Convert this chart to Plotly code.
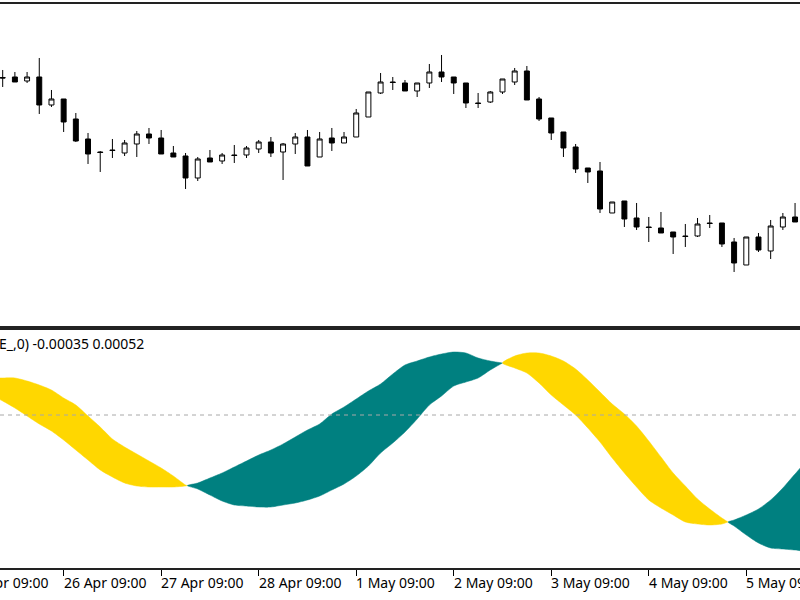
import numpy as np
import plotly.graph_objects as go

# ---------------- data ----------------
# H3 bars, index -1 .. 66 (first/last only partly in view)
bar_idx = list(range(-1, 67))

open_ = [1.11250,
    1.11225, 1.11230, 1.11190, 1.11230, 1.10950, 1.11010, 1.10810, 1.10610, 1.10480, 1.10500,
    1.10470, 1.10560, 1.10660, 1.10620, 1.10470, 1.10440, 1.10220, 1.10420, 1.10390, 1.10450,
    1.10450, 1.10510, 1.10580, 1.10480, 1.10560, 1.10630, 1.10430, 1.10620, 1.10570, 1.10630,
    1.10830, 1.11070, 1.11180, 1.11170, 1.11090, 1.11170, 1.11280, 1.11230, 1.11170, 1.10970,
    1.10980, 1.11080, 1.11180, 1.11290, 1.11010, 1.10820, 1.10680, 1.10530, 1.10320, 1.10290,
    1.09870, 1.09990, 1.09820, 1.09730, 1.09720, 1.09680, 1.09640, 1.09640, 1.09770, 1.09770,
    1.09580, 1.09350, 1.09630, 1.09490, 1.09730, 1.09830,
    1.09780]
high = [1.11290,
    1.11300, 1.11280, 1.11280, 1.11420, 1.11100, 1.11010, 1.10870, 1.10670, 1.10490, 1.10610,
    1.10600, 1.10690, 1.10720, 1.10700, 1.10540, 1.10470, 1.10430, 1.10500, 1.10470, 1.10550,
    1.10540, 1.10600, 1.10630, 1.10570, 1.10670, 1.10700, 1.10680, 1.10720, 1.10680, 1.10910,
    1.11080, 1.11270, 1.11230, 1.11200, 1.11170, 1.11360, 1.11450, 1.11230, 1.11170, 1.11070,
    1.11090, 1.11210, 1.11320, 1.11340, 1.11030, 1.10820, 1.10680, 1.10560, 1.10320, 1.10380,
    1.09980, 1.09990, 1.09970, 1.09830, 1.09880, 1.09680, 1.09760, 1.09820, 1.09850, 1.09770,
    1.09620, 1.09630, 1.09670, 1.09800, 1.09870, 1.09970,
    1.09830]
low = [1.11190,
    1.11130, 1.11180, 1.11170, 1.10860, 1.10930, 1.10680, 1.10580, 1.10360, 1.10280, 1.10420,
    1.10440, 1.10430, 1.10560, 1.10460, 1.10430, 1.10110, 1.10190, 1.10380, 1.10360, 1.10370,
    1.10420, 1.10470, 1.10430, 1.10200, 1.10460, 1.10340, 1.10430, 1.10490, 1.10570, 1.10630,
    1.10830, 1.11060, 1.11100, 1.11090, 1.11030, 1.11120, 1.11180, 1.11060, 1.10920, 1.10920,
    1.10970, 1.11060, 1.11150, 1.11000, 1.10790, 1.10600, 1.10430, 1.10270, 1.10170, 1.09870,
    1.09870, 1.09730, 1.09700, 1.09580, 1.09670, 1.09460, 1.09530, 1.09630, 1.09720, 1.09530,
    1.09280, 1.09350, 1.09480, 1.09410, 1.09700, 1.09780,
    1.09720]
close = [1.11225,
    1.11220, 1.11180, 1.11230, 1.10950, 1.11010, 1.10780, 1.10590, 1.10460, 1.10475, 1.10495,
    1.10570, 1.10660, 1.10620, 1.10460, 1.10430, 1.10220, 1.10410, 1.10380, 1.10450, 1.10445,
    1.10520, 1.10580, 1.10470, 1.10560, 1.10630, 1.10340, 1.10610, 1.10570, 1.10630, 1.10870,
    1.11080, 1.11180, 1.11175, 1.11090, 1.11170, 1.11280, 1.11230, 1.11170, 1.10970, 1.10965,
    1.11080, 1.11210, 1.11290, 1.11000, 1.10810, 1.10670, 1.10520, 1.10310, 1.10280, 1.09910,
    1.09980, 1.09810, 1.09730, 1.09725, 1.09670, 1.09630, 1.09635, 1.09760, 1.09765, 1.09560,
    1.09370, 1.09630, 1.09500, 1.09740, 1.09830, 1.09780,
    1.09760]

# indicator: fast and slow line
fast = [0.00020,
    0.00014, 0.00007, -0.00001, -0.00009, -0.00016, -0.00025, -0.00035, -0.00045, -0.00055, -0.00062,
    -0.00068, -0.00071, -0.00072, -0.00072, -0.00072, -0.00071, -0.00068, -0.00063, -0.00058, -0.00052,
    -0.00046, -0.00040, -0.00035, -0.00029, -0.00022, -0.00015, -0.00009, 0.00001, 0.00008, 0.00016,
    0.00024, 0.00031, 0.00041, 0.00050, 0.00054, 0.00058, 0.00061, 0.00063, 0.00062, 0.00057,
    0.00054, 0.00052, 0.00047, 0.00042, 0.00032, 0.00020, 0.00010, 0.00000, -0.00013, -0.00027,
    -0.00043, -0.00058, -0.00072, -0.00085, -0.00093, -0.00100, -0.00107, -0.00109, -0.00110, -0.00109,
    -0.00105, -0.00100, -0.00094, -0.00085, -0.00073, -0.00059,
    -0.00047]
slow = [0.00037,
    0.00037, 0.00037, 0.00034, 0.00030, 0.00025, 0.00017, 0.00010, -0.00001, -0.00012, -0.00024,
    -0.00032, -0.00039, -0.00046, -0.00053, -0.00061, -0.00070, -0.00074, -0.00080, -0.00086, -0.00090,
    -0.00091, -0.00092, -0.00092, -0.00090, -0.00088, -0.00085, -0.00081, -0.00075, -0.00069, -0.00061,
    -0.00051, -0.00038, -0.00028, -0.00017, -0.00004, 0.00010, 0.00019, 0.00029, 0.00033, 0.00037,
    0.00045, 0.00052, 0.00059, 0.00062, 0.00062, 0.00059, 0.00054, 0.00046, 0.00035, 0.00023,
    0.00011, 0.00001, -0.00011, -0.00026, -0.00042, -0.00058, -0.00071, -0.00084, -0.00094, -0.00103,
    -0.00111, -0.00120, -0.00128, -0.00133, -0.00134, -0.00135,
    -0.00135]

tick_idx = [-3, 5, 13, 21, 29, 37, 45, 53, 61]
tick_text = ["25 Apr 09:00", "26 Apr 09:00", "27 Apr 09:00", "28 Apr 09:00", "1 May 09:00",
             "2 May 09:00", "3 May 09:00", "4 May 09:00", "5 May 09:00"]

indicator_label = "E_,0) -0.00035 0.00052"

# ---------------- figure ----------------
X_RANGE = [-0.2215, 65.406]
FONT = "Noto Sans"
UP_COL = "#008080"
DN_COL = "#FFD700"

fig = go.Figure()

fig.add_trace(go.Candlestick(
    x=bar_idx, open=open_, high=high, low=low, close=close,
    increasing=dict(line=dict(color="black", width=1), fillcolor="white"),
    decreasing=dict(line=dict(color="black", width=1), fillcolor="black"),
    whiskerwidth=0, xaxis="x", yaxis="y", showlegend=False, hoverinfo="skip"))

# filled band between the two indicator lines, split at crossings
xs = np.array(bar_idx, dtype=float)
F = np.array(fast)
S = np.array(slow)
d = F - S
polys = []
cur_sign = np.sign(d[0])
cx, cf, cs = [xs[0]], [F[0]], [S[0]]
for i in range(1, len(xs)):
    sg = np.sign(d[i])
    if sg != 0 and sg != cur_sign:
        t = d[i - 1] / (d[i - 1] - d[i])
        xc = xs[i - 1] + t * (xs[i] - xs[i - 1])
        yc = F[i - 1] + t * (F[i] - F[i - 1])
        if t > 0:
            cx.append(xc); cf.append(yc); cs.append(yc)
        polys.append((cur_sign, cx, cf, cs))
        cx, cf, cs = [xc, xs[i]], [yc, F[i]], [yc, S[i]]
        cur_sign = sg
    else:
        cx.append(xs[i]); cf.append(F[i]); cs.append(S[i])
polys.append((cur_sign, cx, cf, cs))

for sg, px, pf, ps in polys:
    col = UP_COL if sg > 0 else DN_COL
    # upper edge forward, lower edge backward (skip duplicated crossing points)
    bx = list(px) + list(px)[-2:0:-1] if pf[-1] == ps[-1] else list(px) + list(px)[::-1]
    fig.add_trace(go.Scatter(
        x=list(px) + list(px)[::-1], y=list(pf) + list(ps)[::-1],
        mode="lines", fill="toself", fillcolor=col,
        line=dict(color=col, width=0.5, shape="spline", smoothing=0.7),
        xaxis="x2", yaxis="y2", showlegend=False, hoverinfo="skip"))

# zero level
fig.add_shape(type="line", xref="paper", x0=0, x1=1, yref="y2", y0=0, y1=0,
              line=dict(color="#A8A8A8", width=1, dash="4px,4px"), layer="above")

LINE_COL = "#222222"
fig.update_layout(
    width=800, height=600,
    margin=dict(l=0, r=0, t=0, b=32),
    paper_bgcolor="white", plot_bgcolor="white",
    showlegend=False,
    xaxis=dict(domain=[0, 1], anchor="y", range=X_RANGE, showline=True, mirror=True,
               linecolor=LINE_COL, linewidth=1.5, showgrid=False, zeroline=False,
               showticklabels=False, ticks="", rangeslider=dict(visible=False)),
    yaxis=dict(domain=[0.42518, 0.99296], anchor="x", range=[1.08735, 1.11960],
               showgrid=False, zeroline=False, showticklabels=False, ticks="", showline=False),
    xaxis2=dict(domain=[0, 1], anchor="y2", range=X_RANGE, showline=True, mirror=True,
                linecolor=LINE_COL, linewidth=1.5, showgrid=False, zeroline=False,
                tickmode="array", tickvals=tick_idx, ticktext=[""] * len(tick_idx),
                ticks="outside", ticklen=6, tickwidth=1, tickcolor="black",
                showticklabels=False),
    yaxis2=dict(domain=[0, 0.41901], anchor="x2", range=[-0.00153, 0.00085],
                showgrid=False, zeroline=False, showticklabels=False, ticks="", showline=False),
    boxgap=0.42,
)

span = X_RANGE[1] - X_RANGE[0]
for ti, tt in zip(tick_idx, tick_text):
    fig.add_annotation(text=tt, xref="paper", yref="paper",
                       x=(ti - X_RANGE[0]) / span, y=-0.0264,
                       xanchor="left", yanchor="middle", showarrow=False, xshift=-2,
                       font=dict(family=FONT, size=14, color="black"))

fig.add_annotation(text=indicator_label, xref="paper", yref="paper", x=0, y=0.3952,
                   xanchor="left", yanchor="middle", showarrow=False, xshift=-3,
                   font=dict(family=FONT, size=14, color="black"))

fig.write_html("out.html")
